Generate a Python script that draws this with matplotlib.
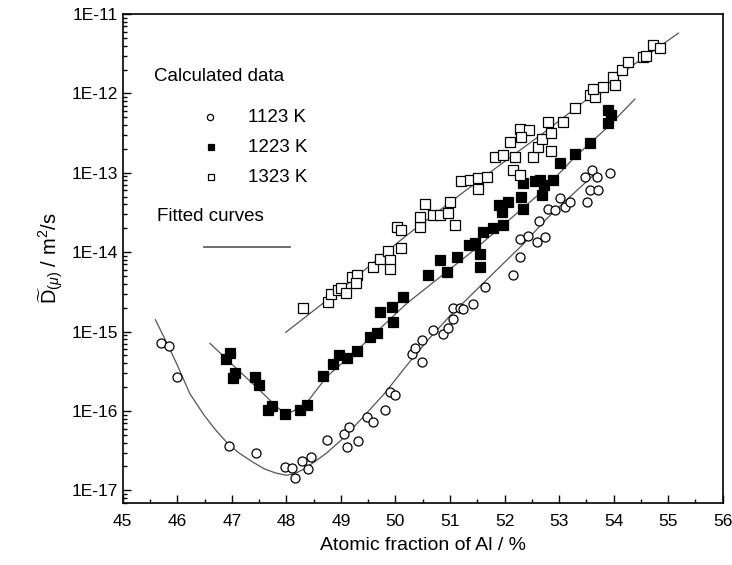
import matplotlib
matplotlib.use("Agg")
import matplotlib.pyplot as plt
import numpy as np
from matplotlib.ticker import FixedLocator, FuncFormatter, LogLocator, MultipleLocator

plt.rcParams["font.family"] = ["Liberation Sans", "DejaVu Sans"]
plt.rcParams["mathtext.fontset"] = "custom"
plt.rcParams["mathtext.rm"] = "Liberation Sans"
plt.rcParams["mathtext.it"] = "Liberation Sans:italic"

# calculated data, 1123 K (open circles)
x_1123 = [45.70, 45.85, 45.99, 46.94, 47.44, 47.98, 48.10, 48.15, 48.29, 48.39,
          48.45, 48.75, 49.06, 49.15, 49.12, 49.32, 49.47, 49.59, 49.81, 49.90,
          49.99, 50.30, 50.36, 50.48, 50.48, 50.69, 50.88, 50.97, 51.06, 51.06,
          51.18, 51.24, 51.43, 51.64, 52.16, 52.28, 52.28, 52.43, 52.59, 52.63,
          52.74, 52.80, 52.93, 53.02, 53.11, 53.20, 53.48, 53.60, 53.69, 53.57,
          53.72, 53.51, 53.94]
y_1123 = [7.1e-16, 6.6e-16, 2.7e-16, 3.6e-17, 2.95e-17, 1.95e-17, 1.9e-17, 1.45e-17, 2.35e-17, 1.85e-17,
          2.6e-17, 4.3e-17, 5.2e-17, 6.2e-17, 3.5e-17, 4.2e-17, 8.3e-17, 7.2e-17, 1.02e-16, 1.74e-16,
          1.6e-16, 5.2e-16, 6.3e-16, 7.8e-16, 4.2e-16, 1.05e-15, 9.3e-16, 1.1e-15, 1.45e-15, 2.0e-15,
          2.0e-15, 1.95e-15, 2.2e-15, 3.6e-15, 5.1e-15, 8.7e-15, 1.48e-14, 1.6e-14, 1.35e-14, 2.5e-14,
          1.55e-14, 3.5e-14, 3.4e-14, 4.8e-14, 3.7e-14, 4.3e-14, 8.9e-14, 1.07e-13, 8.9e-14, 6.0e-14,
          6.0e-14, 4.3e-14, 9.8e-14]

# calculated data, 1223 K (filled squares)
x_1223 = [46.90, 46.97, 47.06, 47.02, 47.43, 47.49, 47.73, 47.67, 47.98, 48.25,
          48.37, 48.67, 48.85, 48.97, 49.12, 49.29, 49.53, 49.66, 49.72, 49.93,
          49.96, 50.14, 50.60, 50.82, 50.94, 51.12, 51.34, 51.46, 51.55, 51.55,
          51.61, 51.79, 51.98, 51.89, 52.07, 51.95, 52.31, 52.34, 52.34, 52.56,
          52.65, 52.72, 52.68, 52.89, 53.02, 53.29, 53.57, 53.90, 53.96, 53.90]
y_1223 = [4.5e-16, 5.4e-16, 3.0e-16, 2.6e-16, 2.7e-16, 2.1e-16, 1.17e-16, 1.02e-16, 9.1e-17, 1.02e-16,
          1.2e-16, 2.75e-16, 3.9e-16, 5.0e-16, 4.7e-16, 5.75e-16, 8.5e-16, 9.5e-16, 1.78e-15, 2.05e-15,
          1.32e-15, 2.75e-15, 5.1e-15, 7.9e-15, 5.6e-15, 8.7e-15, 1.23e-14, 1.29e-14, 9.5e-15, 6.6e-15,
          1.78e-14, 2.0e-14, 2.2e-14, 3.9e-14, 4.3e-14, 3.2e-14, 5.0e-14, 3.5e-14, 7.4e-14, 7.8e-14,
          8.1e-14, 7.1e-14, 5.2e-14, 8.1e-14, 1.32e-13, 1.74e-13, 2.35e-13, 6.2e-13, 5.4e-13, 4.2e-13]

# calculated data, 1323 K (open squares)
x_1323 = [48.31, 48.77, 48.81, 48.95, 49.01, 49.10, 49.20, 49.29, 49.27, 49.59,
          49.72, 49.87, 49.90, 49.90, 50.11, 50.02, 50.11, 50.45, 50.45, 50.54,
          50.69, 50.81, 50.97, 51.09, 51.00, 51.21, 51.37, 51.52, 51.52, 51.67,
          51.83, 51.98, 52.19, 52.16, 52.28, 52.53, 52.10, 52.28, 52.44, 52.31,
          52.62, 52.68, 52.80, 52.86, 52.86, 53.08, 53.29, 53.57, 53.66, 53.63,
          53.81, 53.99, 54.03, 54.15, 54.27, 54.54, 54.60, 54.73, 54.85]
y_1323 = [2.0e-15, 2.35e-15, 3.0e-15, 3.3e-15, 3.5e-15, 3.1e-15, 4.9e-15, 5.1e-15, 4.1e-15, 6.5e-15,
          8.3e-15, 1.05e-14, 7.9e-15, 6.2e-15, 1.12e-14, 2.1e-14, 1.9e-14, 2.1e-14, 2.75e-14, 4.1e-14,
          2.95e-14, 2.95e-14, 3.1e-14, 2.2e-14, 4.3e-14, 7.8e-14, 8.1e-14, 8.5e-14, 6.3e-14, 8.9e-14,
          1.58e-13, 1.66e-13, 1.58e-13, 1.07e-13, 9.3e-14, 1.58e-13, 2.45e-13, 3.6e-13, 3.5e-13, 2.8e-13,
          2.1e-13, 2.7e-13, 4.4e-13, 3.2e-13, 1.9e-13, 4.4e-13, 6.5e-13, 9.5e-13, 9.1e-13, 1.15e-12,
          1.2e-12, 1.62e-12, 1.26e-12, 1.95e-12, 2.5e-12, 2.9e-12, 3.0e-12, 4.1e-12, 3.7e-12]

# fitted curves
fx_1123 = [45.6, 45.85, 46.0, 46.23, 46.5, 46.72, 46.94, 47.15, 47.4, 47.6,
           47.8, 48.0, 48.15, 48.3, 48.5, 48.75, 49.0, 49.35, 49.8, 50.2,
           50.6, 51.0, 51.67, 52.34, 52.77, 53.2, 53.63]
fy_1123 = [1.41e-15, 6.3e-16, 3.8e-16, 1.66e-16, 8.7e-17, 5.6e-17, 3.8e-17, 2.9e-17, 2.24e-17, 1.86e-17,
           1.66e-17, 1.55e-17, 1.62e-17, 1.82e-17, 2.24e-17, 3.0e-17, 4.27e-17, 7.6e-17, 1.66e-16, 3.7e-16,
           7.9e-16, 1.58e-15, 4.47e-15, 1.26e-14, 2.63e-14, 5.0e-14, 9.3e-14]
fx_1223 = [46.6, 47.0, 47.5, 47.8, 47.9, 48.0, 48.1, 48.2, 48.37, 48.74,
           49.35, 50.2, 51.43, 52.65, 53.29, 53.9, 54.39]
fy_1223 = [7.1e-16, 3.9e-16, 1.86e-16, 1.17e-16, 1.02e-16, 9.3e-17, 9.8e-17, 1.06e-16, 1.26e-16, 2.7e-16,
           6.3e-16, 2.24e-15, 1.05e-14, 5.5e-14, 1.58e-13, 3.8e-13, 8.5e-13]
fx_1323 = [47.99, 49.0, 50.2, 51.43, 52.77, 53.99, 55.19]
fy_1323 = [9.8e-16, 3.4e-15, 1.62e-14, 7.1e-14, 3.4e-13, 1.51e-12, 5.75e-12]

legend_labels = ["1123 K", "1223 K", "1323 K"]

fig = plt.figure(figsize=(7.32, 5.65), dpi=100)
ax = fig.add_axes([0.1676, 0.1103, 0.8197, 0.8649])

line_kw = dict(color="#555555", lw=0.9, zorder=1)
ax.plot(fx_1123, fy_1123, **line_kw)
ax.plot(fx_1223, fy_1223, **line_kw)
ax.plot(fx_1323, fy_1323, **line_kw)

ax.plot(x_1123, y_1123, ls="none", marker="o", ms=6.5, mfc="white", mec="black", mew=0.9, zorder=2)
ax.plot(x_1223, y_1223, ls="none", marker="s", ms=7, mfc="black", mec="black", mew=0.9, zorder=2)
ax.plot(x_1323, y_1323, ls="none", marker="s", ms=7, mfc="white", mec="black", mew=0.9, zorder=2)

ax.set_yscale("log")
ax.set_xlim(45, 56)
ax.set_ylim(7e-18, 1e-11)

ax.xaxis.set_major_locator(MultipleLocator(1))
ax.xaxis.set_minor_locator(MultipleLocator(0.5))
ax.yaxis.set_major_locator(FixedLocator([1e-17, 1e-16, 1e-15, 1e-14, 1e-13, 1e-12, 1e-11]))
ax.yaxis.set_minor_locator(LogLocator(base=10, subs=np.arange(2, 10)))
ax.yaxis.set_major_formatter(FuncFormatter(lambda v, p: "1E%d" % round(np.log10(v))))
ax.yaxis.set_minor_formatter(FuncFormatter(lambda v, p: ""))

ax.tick_params(which="both", direction="in", top=False, right=False, labelsize=12.5, width=1.0)
ax.tick_params(which="major", length=6)
ax.tick_params(which="minor", length=3)
ax.tick_params(axis="x", pad=8)
for s in ax.spines.values():
    s.set_linewidth(1.2)

ax.set_xlabel("Atomic fraction of Al / %", fontsize=14, labelpad=6)
ax.set_ylabel(r"$\widetilde{\mathrm{D}}_{(\mu)}$ / m$^2$/s", fontsize=14.5, labelpad=4)

# hand-placed key, as in the original
tr = ax.transAxes
ax.text(0.053, 0.873, "Calculated data", transform=tr, fontsize=13.5, va="center", ha="left")
ax.plot([0.145], [0.789], marker="o", ms=4.5, mfc="white", mec="black", mew=0.9, transform=tr)
ax.plot([0.148], [0.727], marker="s", ms=4.5, mfc="black", mec="black", mew=0.9, transform=tr)
ax.plot([0.148], [0.666], marker="s", ms=4.5, mfc="white", mec="black", mew=0.9, transform=tr)
for yy, lab in zip([0.789, 0.727, 0.666], legend_labels):
    ax.text(0.209, yy, lab, transform=tr, fontsize=13.5, va="center", ha="left")
ax.text(0.058, 0.585, "Fitted curves", transform=tr, fontsize=13.5, va="center", ha="left")
ax.plot([0.135, 0.279], [0.523, 0.523], color="#555555", lw=1.2, transform=tr)

fig.savefig("out.png", dpi=100, facecolor="white")
